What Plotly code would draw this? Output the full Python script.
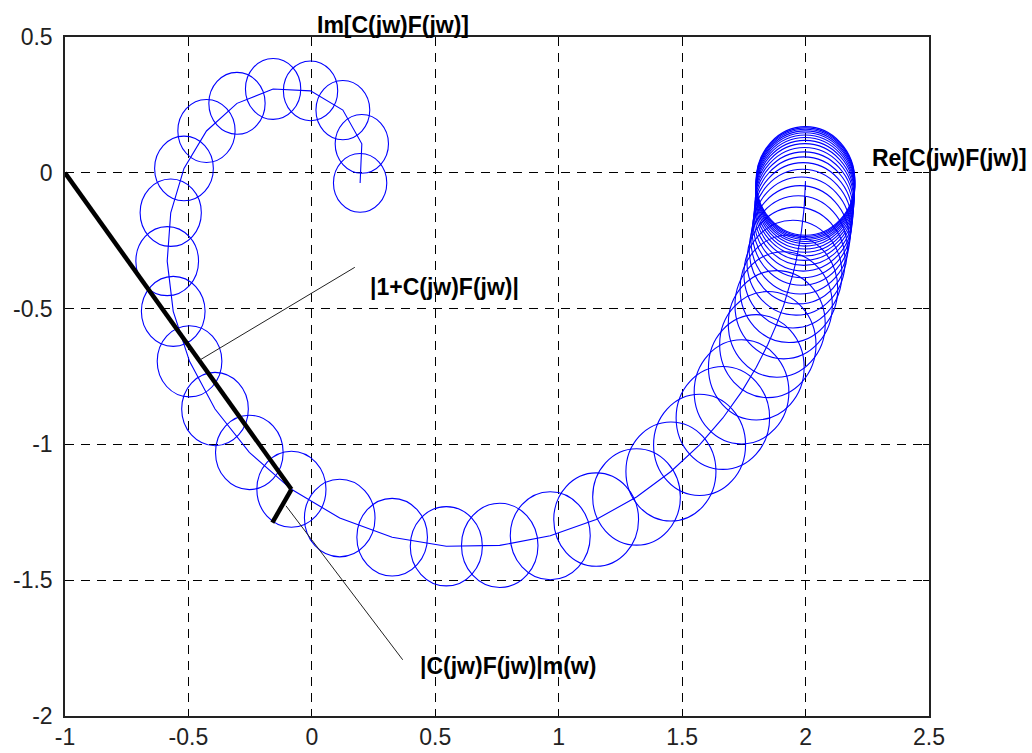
import plotly.graph_objects as go

# ---- data (Nyquist curve points = circle centres) ----
center_re = [1.9997, 1.9996, 1.9995, 1.9993, 1.9990, 1.9987, 1.9982, 1.9977, 1.9969, 1.9959,
             1.9946, 1.9928, 1.9905, 1.9873, 1.9833, 1.9778, 1.9707, 1.9613, 1.9488, 1.9325,
             1.9112, 1.8833, 1.8471, 1.8004, 1.7406, 1.6650, 1.5706, 1.4546, 1.3152, 1.1517,
             0.9657, 0.7611, 0.5447, 0.3253, 0.1129, -0.0828, -0.2533, -0.3923, -0.4955, -0.5616,
             -0.5860, -0.5717, -0.5180, -0.4269, -0.3033, -0.1570, -0.0053, 0.1256, 0.2024, 0.1955]
center_im = [-0.0300, -0.0345, -0.0398, -0.0458, -0.0527, -0.0607, -0.0699, -0.0804, -0.0926, -0.1065,
             -0.1226, -0.1411, -0.1623, -0.1867, -0.2147, -0.2467, -0.2834, -0.3252, -0.3729, -0.4269,
             -0.4880, -0.5564, -0.6325, -0.7161, -0.8066, -0.9027, -1.0018, -1.0998, -1.1934, -1.2768,
             -1.3363, -1.3719, -1.3750, -1.3417, -1.2711, -1.1653, -1.0294, -0.8698, -0.6942, -0.5102,
             -0.3252, -0.1470, 0.0160, 0.1540, 0.2557, 0.3086, 0.3017, 0.2309, 0.1066, -0.0372]
radius = [0.2000, 0.2000, 0.2000, 0.2000, 0.2000, 0.1999, 0.1999, 0.1999, 0.1999, 0.1999,
          0.1998, 0.1998, 0.1997, 0.1996, 0.1995, 0.1993, 0.1991, 0.1988, 0.1984, 0.1979,
          0.1972, 0.1964, 0.1952, 0.1938, 0.1918, 0.1894, 0.1863, 0.1824, 0.1776, 0.1718,
          0.1620, 0.1550, 0.1460, 0.1430, 0.1430, 0.1400, 0.1370, 0.1350, 0.1310, 0.1290,
          0.1270, 0.1240, 0.1190, 0.1160, 0.1140, 0.1120, 0.1100, 0.1090, 0.1080, 0.1080]

# |1 + C F| vector from -1 to the curve, and the radius |C F| m(w)
sens_vec_x = [-1.0, -0.0828]
sens_vec_y = [0.0, -1.1653]
rad_vec_x = [-0.0828, -0.160]
rad_vec_y = [-1.1653, -1.288]

# thin pointer lines to the labels
pointer1_x = [-0.453, 0.174]
pointer1_y = [-0.689, -0.348]
pointer2_x = [-0.105, 0.368]
pointer2_y = [-1.226, -1.793]

# label texts and anchor positions (x in data units, y in plot-area fraction)
label_texts = ["Im[C(jw)F(jw)]", "Re[C(jw)F(jw)]", "|1+C(jw)F(jw)|", "|C(jw)F(jw)|m(w)"]
label_x = [0.012, 2.259, 0.227, 0.429]
label_y = [1.0177, 0.8224, 0.6324, 0.0740]

x_ticks = [-1, -0.5, 0, 0.5, 1, 1.5, 2, 2.5]
x_tick_labels = ["-1", "-0.5", "0", "0.5", "1", "1.5", "2", "2.5"]
y_ticks = [-2, -1.5, -1, -0.5, 0, 0.5]
y_tick_labels = ["-2", "-1.5", "-1", "-0.5", "0", "0.5"]

BLUE = "#0000FF"
FONT = "Liberation Sans, Arial, sans-serif"

fig = go.Figure()

shapes = []
for cx, cy, r in zip(center_re, center_im, radius):
    shapes.append(dict(type="circle", xref="x", yref="y",
                       x0=cx - r, x1=cx + r, y0=cy - r, y1=cy + r,
                       line=dict(color=BLUE, width=1.1), layer="between"))

fig.add_trace(go.Scatter(x=center_re, y=center_im, mode="lines",
                         line=dict(color=BLUE, width=1.1), hoverinfo="skip"))
fig.add_trace(go.Scatter(x=sens_vec_x, y=sens_vec_y, mode="lines",
                         line=dict(color="black", width=4.5), hoverinfo="skip"))
fig.add_trace(go.Scatter(x=rad_vec_x, y=rad_vec_y, mode="lines",
                         line=dict(color="black", width=4.5), hoverinfo="skip"))
fig.add_trace(go.Scatter(x=pointer1_x, y=pointer1_y, mode="lines",
                         line=dict(color="#222222", width=1), hoverinfo="skip"))
fig.add_trace(go.Scatter(x=pointer2_x, y=pointer2_y, mode="lines",
                         line=dict(color="#222222", width=1), hoverinfo="skip"))

annotations = []
for t, ax_, ay_ in zip(label_texts, label_x, label_y):
    annotations.append(dict(x=ax_, y=ay_, xref="x", yref="paper", text="<b>" + t + "</b>",
                            showarrow=False, xanchor="left", yanchor="middle",
                            font=dict(family=FONT, size=23, color="black")))

axis_common = dict(
    showgrid=True, gridcolor="black", gridwidth=1, griddash="9px,7px",
    zeroline=False, showline=True, linecolor="#222222", linewidth=1.5, mirror="ticks",
    ticks="inside", ticklen=6, tickcolor="black", tickwidth=1,
    tickfont=dict(family=FONT, size=23, color="#222222"),
    automargin=False,
)

fig.update_layout(
    width=1032, height=753,
    margin=dict(l=65, r=103, t=37, b=37),
    paper_bgcolor="white", plot_bgcolor="white",
    showlegend=False,
    shapes=shapes,
    annotations=annotations,
    xaxis=dict(range=[-1, 2.5], tickvals=x_ticks, ticktext=x_tick_labels,
               ticklabelstandoff=0, **axis_common),
    yaxis=dict(range=[-2, 0.5], tickvals=y_ticks, ticktext=y_tick_labels,
               ticklabelstandoff=6, **axis_common),
)

fig.write_html("out.html", config={"displayModeBar": False},
               post_script="document.body.style.margin='0';")
